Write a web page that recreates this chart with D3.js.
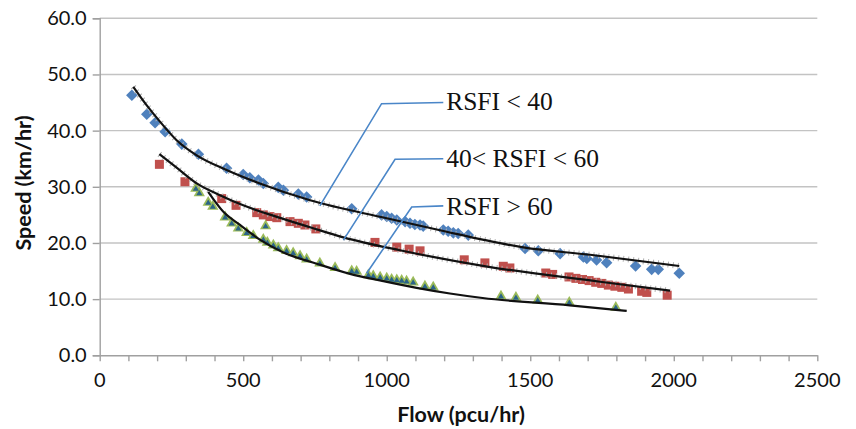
<!DOCTYPE html>
<html>
<head>
<meta charset="utf-8">
<script src="https://cdn.jsdelivr.net/npm/d3@7"></script>
<style>
  html, body { margin: 0; padding: 0; background: #fff; }
  svg { display: block; }
</style>
</head>
<body>
<svg id="chart" width="856" height="429"></svg>
<script>
// ---------- data ----------
const xTicks = [0, 500, 1000, 1500, 2000, 2500];
const yTicks = [0, 10, 20, 30, 40, 50, 60];

// observed points [flow, speed]
const rsfiLow = [[112,46.3],[164,42.9],[193,41.4],[228,39.8],[286,37.6],[344,35.8],[442,33.3],[500,32.2],[523,31.6],[553,31.2],[570,30.6],[622,29.9],[640,29.4],[692,28.7],[721,28.2],[878,26.1],[982,25.0],[1000,24.7],[1017,24.4],[1035,24.1],[1064,23.8],[1081,23.5],[1098,23.3],[1116,23.2],[1127,23.0],[1197,22.3],[1214,22.1],[1232,21.8],[1249,21.7],[1284,21.4],[1482,19.0],[1528,18.6],[1604,18.1],[1685,17.5],[1697,17.25],[1731,16.95],[1766,16.5],[1867,15.9],[1923,15.3],[1946,15.3],[2019,14.6]];
const rsfiMid = [[208,34.0],[297,30.9],[425,27.9],[475,26.7],[547,25.4],[570,25.0],[593,24.7],[617,24.5],[663,23.8],[692,23.5],[715,23.2],[753,22.5],[959,20.1],[1035,19.25],[1078,18.9],[1116,18.6],[1270,17.0],[1342,16.45],[1406,15.85],[1429,15.55],[1554,14.65],[1578,14.4],[1635,13.95],[1659,13.7],[1682,13.5],[1705,13.3],[1728,13.0],[1749,12.8],[1772,12.5],[1795,12.3],[1819,12.1],[1842,11.8],[1888,11.4],[1906,11.2],[1977,10.7]];
const rsfiHigh = [[335,29.7],[347,28.9],[378,27.2],[394,26.5],[437,24.6],[460,23.5],[483,22.6],[512,21.8],[535,21.3],[570,20.6],[578,23.0],[584,20.1],[605,19.6],[622,19.1],[651,18.6],[674,18.2],[698,17.7],[721,17.1],[767,16.4],[820,15.6],[878,15.0],[895,14.9],[936,14.3],[953,14.1],[977,13.9],[1000,13.7],[1017,13.5],[1035,13.4],[1052,13.3],[1069,13.2],[1092,13.0],[1133,12.3],[1162,12.1],[1398,10.5],[1450,10.3],[1526,9.8],[1636,9.4],[1798,8.5]];

// fitted curves [flow, speed]
const fitLow = [[117,47.8],[164,44.5],[210,41.6],[268,38.3],[338,35.6],[442,33.0],[558,30.6],[733,27.6],[1000,24.4],[1209,22.0],[1334,20.6],[1476,19.2],[1708,17.9],[2019,15.9]];
const fitMid = [[208,35.8],[268,33.4],[338,30.6],[419,28.5],[500,26.7],[617,24.65],[733,22.8],[849,21.0],[1046,18.7],[1350,15.8],[1743,13.1],[1987,11.5]];
const fitHigh = [[378,29.1],[430,25.6],[489,23.2],[558,20.6],[640,18.3],[756,16.3],[872,14.5],[988,13.2],[1104,12.0],[1220,11.0],[1334,10.2],[1638,8.9],[1836,7.9]];

// annotation labels and leader lines [flow, speed]
const labels = ["RSFI < 40", "40< RSFI < 60", "RSFI > 60"];
const leaders = [
  [[767,26.6],[982,44.8],[1197,45.0]],
  [[849,20.5],[1029,34.9],[1197,35.0]],
  [[930,14.6],[1087,26.4],[1197,26.6]]
];
const labelPos = [[1207,43.6],[1207,33.5],[1207,25.0]];

// ---------- drawing ----------
const svg = d3.select("#chart");
const x = d3.scaleLinear().domain([0, 2500]).range([99.7, 817.3]);
const y = d3.scaleLinear().domain([0, 60]).range([355.3, 18.3]);

const gridColor = "#c3c3c3";
const axisColor = "#a0a0a0";
const tickFont = "Lato, 'Open Sans', sans-serif";

// gridlines
svg.append("g").selectAll("line")
  .data(yTicks.filter(d => d > 0))
  .join("line")
  .attr("x1", x(0)).attr("x2", x(2500))
  .attr("y1", d => y(d)).attr("y2", d => y(d))
  .attr("stroke", gridColor).attr("stroke-width", 1.4);

// y axis
const yAxis = d3.axisLeft(y).tickValues(yTicks).tickFormat(d3.format(".1f")).tickSize(7).tickPadding(6);
const gy = svg.append("g").attr("transform", `translate(${x(0)},0)`).call(yAxis);
gy.select(".domain").attr("stroke", axisColor).attr("stroke-width", 1.4);
gy.selectAll(".tick line").attr("stroke", axisColor).attr("stroke-width", 1.4);
gy.selectAll(".tick text").attr("font-family", tickFont).attr("font-size", 20).attr("fill", "#111");

// x axis with minor ticks every 100
const gx = svg.append("g").attr("transform", `translate(0,${y(0)})`)
  .call(d3.axisBottom(x).tickValues(d3.range(0, 2501, 100)).tickFormat("").tickSize(6).tickSizeOuter(0));
gx.select(".domain").attr("stroke", axisColor).attr("stroke-width", 1.4);
gx.selectAll(".tick line").attr("stroke", axisColor).attr("stroke-width", 1.4);
svg.append("g").selectAll("text").data(xTicks).join("text")
  .attr("x", d => x(d)).attr("y", y(0) + 31.5)
  .attr("text-anchor", "middle")
  .attr("font-family", tickFont).attr("font-size", 20).attr("fill", "#111")
  .text(d => d);

// axis titles
svg.append("text")
  .attr("x", 461).attr("y", 422)
  .attr("text-anchor", "middle")
  .attr("font-family", tickFont).attr("font-weight", "bold").attr("font-size", 21.5).attr("fill", "#111")
  .text("Flow (pcu/hr)");
svg.append("text")
  .attr("transform", "translate(31,183) rotate(-90)")
  .attr("text-anchor", "middle")
  .attr("font-family", tickFont).attr("font-weight", "bold").attr("font-size", 21.5).attr("fill", "#111")
  .text("Speed (km/hr)");

// markers
const blue = "#4f81bd", red = "#c0504d", green = "#9bbb59";
svg.append("g").selectAll("path").data(rsfiLow).join("path")
  .attr("transform", d => `translate(${x(d[0])},${y(d[1])})`)
  .attr("d", d3.symbol(d3.symbolDiamond2, 85)())
  .attr("fill", blue);
svg.append("g").selectAll("rect").data(rsfiMid).join("rect")
  .attr("x", d => x(d[0]) - 4.5).attr("y", d => y(d[1]) - 4.5)
  .attr("width", 9).attr("height", 9)
  .attr("fill", red);
const gh = svg.append("g");
gh.selectAll("path.o").data(rsfiHigh).join("path").attr("class", "o")
  .attr("transform", d => `translate(${x(d[0])},${y(d[1])})`)
  .attr("d", d3.symbol(d3.symbolTriangle, 55)())
  .attr("fill", green);
gh.selectAll("path.i").data(rsfiHigh).join("path").attr("class", "i")
  .attr("transform", d => `translate(${x(d[0])},${y(d[1]) + 0.5})`)
  .attr("d", d3.symbol(d3.symbolTriangle, 16)())
  .attr("fill", "#2a6389");

// fitted curves
const line = d3.line().x(d => x(d[0])).y(d => y(d[1])).curve(d3.curveMonotoneX);
[fitLow, fitMid, fitHigh].forEach((f, i) => {
  if (i < 2) {
    svg.append("path").attr("d", line(f)).attr("fill", "none")
      .attr("stroke", "#b0b0b0").attr("stroke-width", 6).attr("stroke-dasharray", "1,4");
  }
  svg.append("path").attr("d", line(f)).attr("fill", "none")
    .attr("stroke", "#111").attr("stroke-width", 2.2);
});

// leader lines + labels
const lline = d3.line().x(d => x(d[0])).y(d => y(d[1]));
leaders.forEach(l => {
  svg.append("path").attr("d", lline(l)).attr("fill", "none")
    .attr("stroke", "#4a86c8").attr("stroke-width", 1.6);
});
svg.append("g").selectAll("text").data(labels).join("text")
  .attr("x", (d, i) => x(labelPos[i][0])).attr("y", (d, i) => y(labelPos[i][1]))
  .attr("font-family", "'Liberation Serif', 'Times New Roman', serif")
  .attr("font-size", 25.5).attr("fill", "#111")
  .text(d => d);
</script>
</body>
</html>
